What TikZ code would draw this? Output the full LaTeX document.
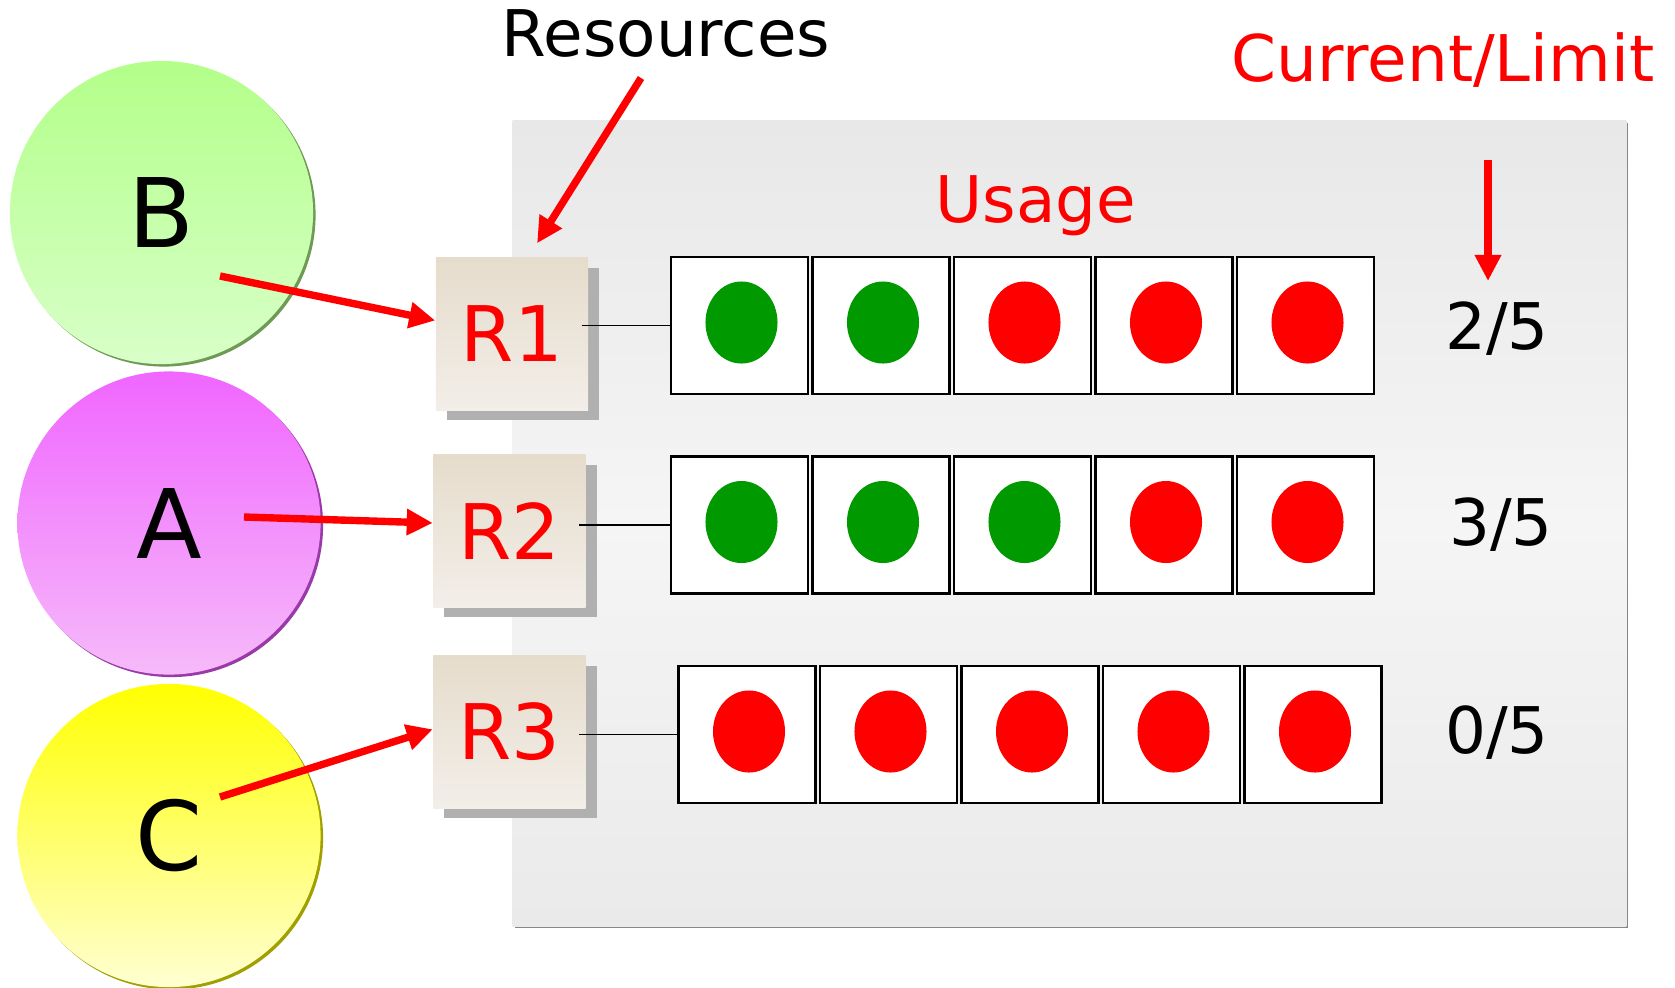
\documentclass[tikz,border=0pt]{standalone}
\usepackage{fontspec}
\setmainfont{DejaVu Sans}
\usetikzlibrary{arrows.meta,shadows}

\definecolor{paneltop}{HTML}{E8E8E8}
\definecolor{panelmid}{HTML}{F5F5F5}
\definecolor{panelbot}{HTML}{EAEAEA}
\definecolor{boxtop}{HTML}{E6DCCC}
\definecolor{boxbot}{HTML}{F2EEE8}
\definecolor{shadowgray}{HTML}{B0B0B0}
\definecolor{dotgreen}{HTML}{009900}
\definecolor{dotred}{HTML}{FF0000}
\definecolor{btop}{HTML}{B3FF8A}
\definecolor{bbot}{HTML}{D8FFC8}
\definecolor{bedge}{HTML}{6E9A55}
\definecolor{atop}{HTML}{F066FF}
\definecolor{abot}{HTML}{F6BAFA}
\definecolor{aedge}{HTML}{9A3AA8}
\definecolor{ctop}{HTML}{FFFF00}
\definecolor{cbot}{HTML}{FFFFD2}
\definecolor{cedge}{HTML}{A0A000}

\begin{document}
\begin{tikzpicture}[x=0.01cm, y=-0.01cm]
    \tikzstyle{every node} = [inner sep=0pt]
    \tikzstyle{big} = [font=\fontsize{18.3}{20}\selectfont]
    \tikzstyle{panel} = [rectangle, minimum width=11.13cm, minimum height=8.05cm,
        top color=paneltop, bottom color=panelbot, middle color=panelmid,
        drop shadow={shadow xshift=0.02cm, shadow yshift=-0.02cm, fill=black!47, opacity=1}]
    \tikzstyle{proc} = [circle, minimum size=3.03cm, font=\fontsize{27.3}{30}\selectfont]
    \tikzstyle{res} = [rectangle, minimum size=1.52cm, top color=boxtop, bottom color=boxbot,
        text=red, font=\fontsize{21.8}{24}\selectfont,
        drop shadow={shadow xshift=0.11cm, shadow yshift=-0.10cm, fill=shadowgray, opacity=1}]
    \tikzstyle{cell} = [rectangle, draw=black, line width=0.6pt, fill=white, minimum size=1.37cm]
    \tikzstyle{used} = [cell, path picture={\fill[dotgreen] ([shift={(2,-3)}]path picture bounding box.center) ellipse (0.36cm and 0.41cm);}]
    \tikzstyle{idle} = [cell, path picture={\fill[dotred] ([shift={(2,-3)}]path picture bounding box.center) ellipse (0.36cm and 0.41cm);}]
    \tikzstyle{redarrow} = [draw=red, line width=2.1pt, -{Triangle[length=0.26cm, width=0.25cm]}]
    \tikzstyle{link} = [draw=black, line width=0.45pt, shorten <=-0.07cm]

    \useasboundingbox (0, 0) rectangle (1675, 987);

    \node[panel] (panel) at (1069.5, 523.5) {};

    \node[big, anchor=base] (res) at (666, 56) {Resources};
    \node[big, anchor=base, text=red] (cl) at (1443, 81) {Current/Limit};
    \node[big, anchor=base, text=red] (usage) at (1036, 222) {Usage};

    \node[proc, top color=btop, bottom color=bbot,
        drop shadow={shadow xshift=0.025cm, shadow yshift=-0.025cm, fill=bedge, opacity=1}] (B) at (161.5, 212.5) {B};
    \node[proc, top color=atop, bottom color=abot,
        drop shadow={shadow xshift=0.025cm, shadow yshift=-0.025cm, fill=aedge, opacity=1}] (A) at (169, 523) {A};
    \node[proc, top color=ctop, bottom color=cbot,
        drop shadow={shadow xshift=0.025cm, shadow yshift=-0.025cm, fill=cedge, opacity=1}] (C) at (169, 835.5) {C};

    \node[res] (r1) at (512, 334) {R1};
    \node[res] (r2) at (509.5, 531) {R2};
    \node[res] (r3) at (509.5, 732) {R3};

    \node[used] (c11) at (739.5, 325.5) {};
    \node[used] (c12) at (881, 325.5) {};
    \node[idle] (c13) at (1022.5, 325.5) {};
    \node[idle] (c14) at (1164, 325.5) {};
    \node[idle] (c15) at (1305.5, 325.5) {};

    \node[used] (c21) at (739.5, 525) {};
    \node[used] (c22) at (881, 525) {};
    \node[used] (c23) at (1022.5, 525) {};
    \node[idle] (c24) at (1164, 525) {};
    \node[idle] (c25) at (1305.5, 525) {};

    \node[idle] (c31) at (747, 734.5) {};
    \node[idle] (c32) at (888.5, 734.5) {};
    \node[idle] (c33) at (1030, 734.5) {};
    \node[idle] (c34) at (1171.5, 734.5) {};
    \node[idle] (c35) at (1313, 734.5) {};

    \node[big, anchor=base] (n1) at (1497, 349) {2/5};
    \node[big, anchor=base] (n2) at (1501, 545) {3/5};
    \node[big, anchor=base] (n3) at (1497, 753) {0/5};

    \coordinate (bt) at (220, 276);
    \coordinate (at) at (244, 517);
    \coordinate (ct) at (220, 797);
    \coordinate (rt) at (641, 78);
    \coordinate (lt) at (1488, 160);
    \coordinate (lh) at (1488, 281);

    \draw [link] (r1.east |- c11.west) -- (c11.west);
    \draw [link] (r2.east |- c21.west) -- (c21.west);
    \draw [link] (r3.east |- c31.west) -- (c31.west);

    \draw [redarrow] (bt) -- (r1.170);
    \draw [redarrow] (at) -- (r2.174);
    \draw [redarrow] (ct) -- (r3.178);

    \draw [redarrow, shorten >=0.165cm] (rt) -- (r1.78);
    \draw [redarrow] (lt) -- (lh);
\end{tikzpicture}
\end{document}
